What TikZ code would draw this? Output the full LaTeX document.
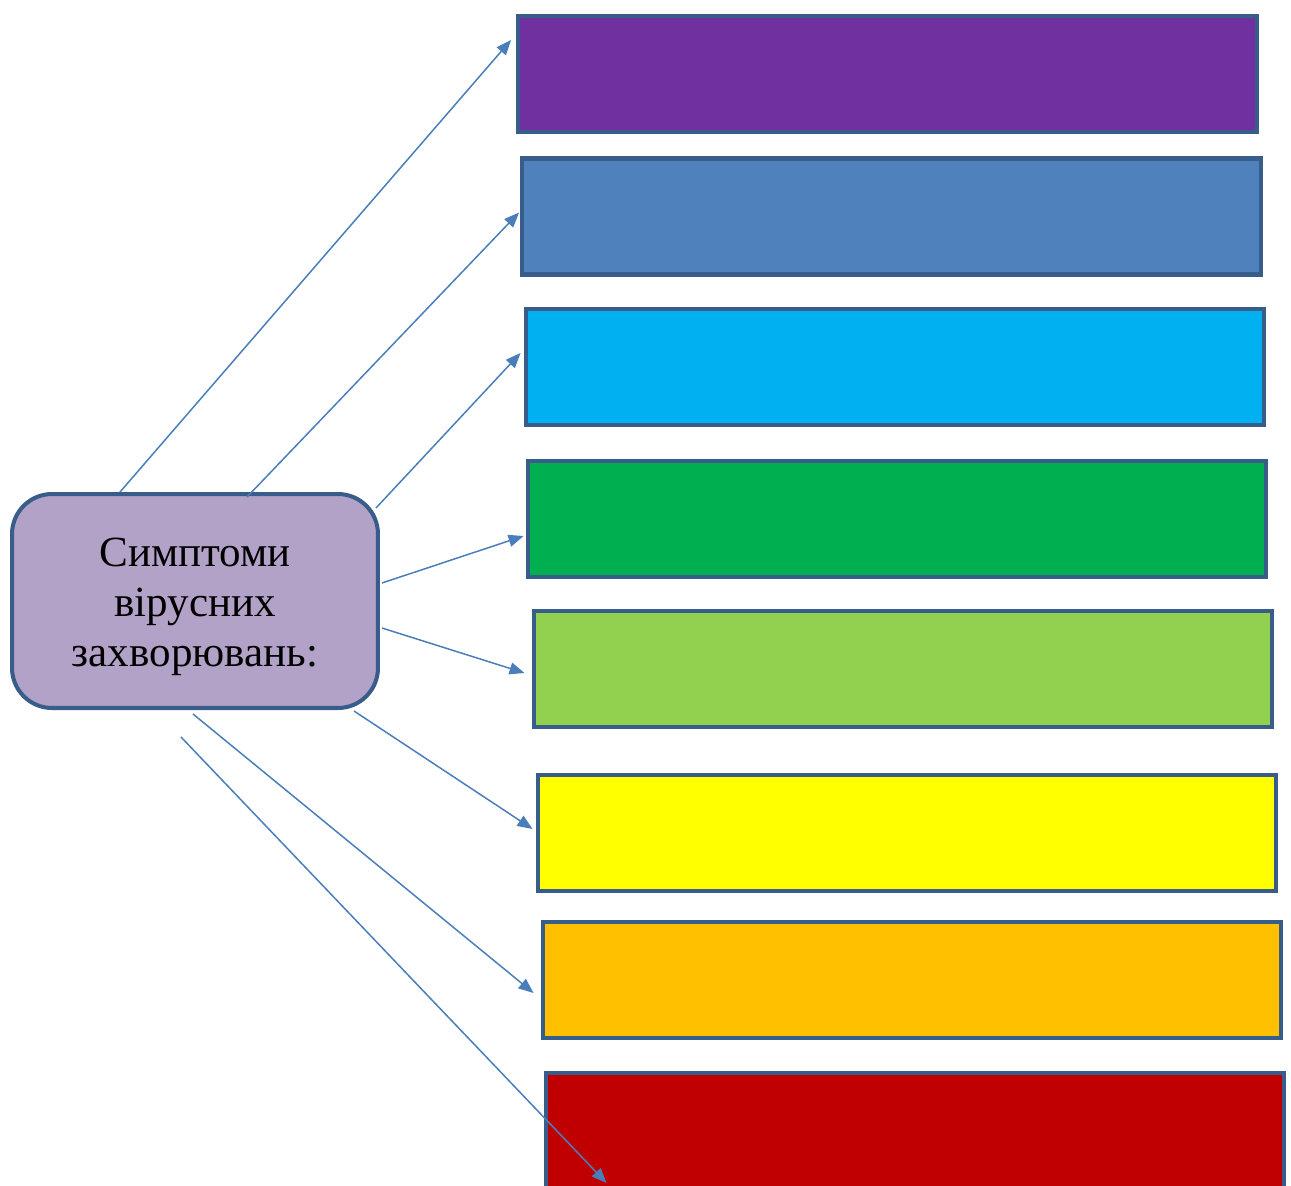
\documentclass[tikz,border=0pt]{standalone}
\usepackage{fontspec}
\setmainfont{Liberation Serif}
\usetikzlibrary{arrows.meta,calc,positioning}
% Farben der Kästen
\definecolor{rahmen}{HTML}{385D8A}
\definecolor{pfeilblau}{HTML}{4A7EBB}
\definecolor{mittel}{HTML}{B3A2C7}
\definecolor{lila}{HTML}{7030A0}
\definecolor{blau}{HTML}{4F81BD}
\definecolor{hellblau}{HTML}{00B0F0}
\definecolor{gruen}{HTML}{00B050}
\definecolor{hellgruen}{HTML}{92D050}
\definecolor{gelb}{HTML}{FFFF00}
\definecolor{orange}{HTML}{FFC000}
\definecolor{rot}{HTML}{C00000}
\tikzset{
  kasten/.style={draw=rahmen, line width=2.3pt, minimum width=14.78cm, minimum height=2.32cm, inner sep=0pt},
  symptom/.style={draw=rahmen, fill=mittel, line width=2.3pt, rounded corners=0.8cm, minimum width=7.32cm, minimum height=4.28cm, inner sep=0pt, align=center, font=\fontsize{24.5}{28.5}\selectfont},
  pfeil/.style={draw=pfeilblau, line width=0.85pt, -{Triangle[length=0.3cm,width=0.24cm]}}
}
\begin{document}
\begin{tikzpicture}[x=0.02cm,y=-0.02cm]
%Koordinaten in Pixeln, y nach unten
\useasboundingbox (0,0) rectangle (1291,1186);
\node[symptom] (sym) at (195,601) {\rule{0pt}{23pt}Симптоми\\вірусних\\захворювань:};
%Kästen rechts, von oben nach unten
\foreach \nr/\x/\y/\farbe in {1/887.5/74/lila, 2/891.5/216.5/blau, 3/895/367/hellblau, 4/897/519/gruen, 5/903/669/hellgruen, 6/907/833/gelb, 7/912/980/orange, 8/915/1131/rot}{
\node[kasten,fill=\farbe] (b\nr) at (\x,\y) {};
}
%Pfeile: Anker am Mittelkasten, Versatz Anfang, Versatz Ende
\foreach \nr/\an/\sx/\sy/\ex/\ey in {1/north/-75/0/-5/-34, 2/north/52/5/-1/-4, 3/north east/-4/16/-3/-14, 4/east/2/-18/-2/17, 5/east/2/27/-7/4, 6/south east/-26/1/-3/-4, 7/south/-2/4/-7/13, 8/south/-14/27/63/52}{
\draw[pfeil] ($(sym.\an)+(\sx,\sy)$) -- ($(b\nr.west)+(\ex,\ey)$);
}
\end{tikzpicture}
\end{document}
